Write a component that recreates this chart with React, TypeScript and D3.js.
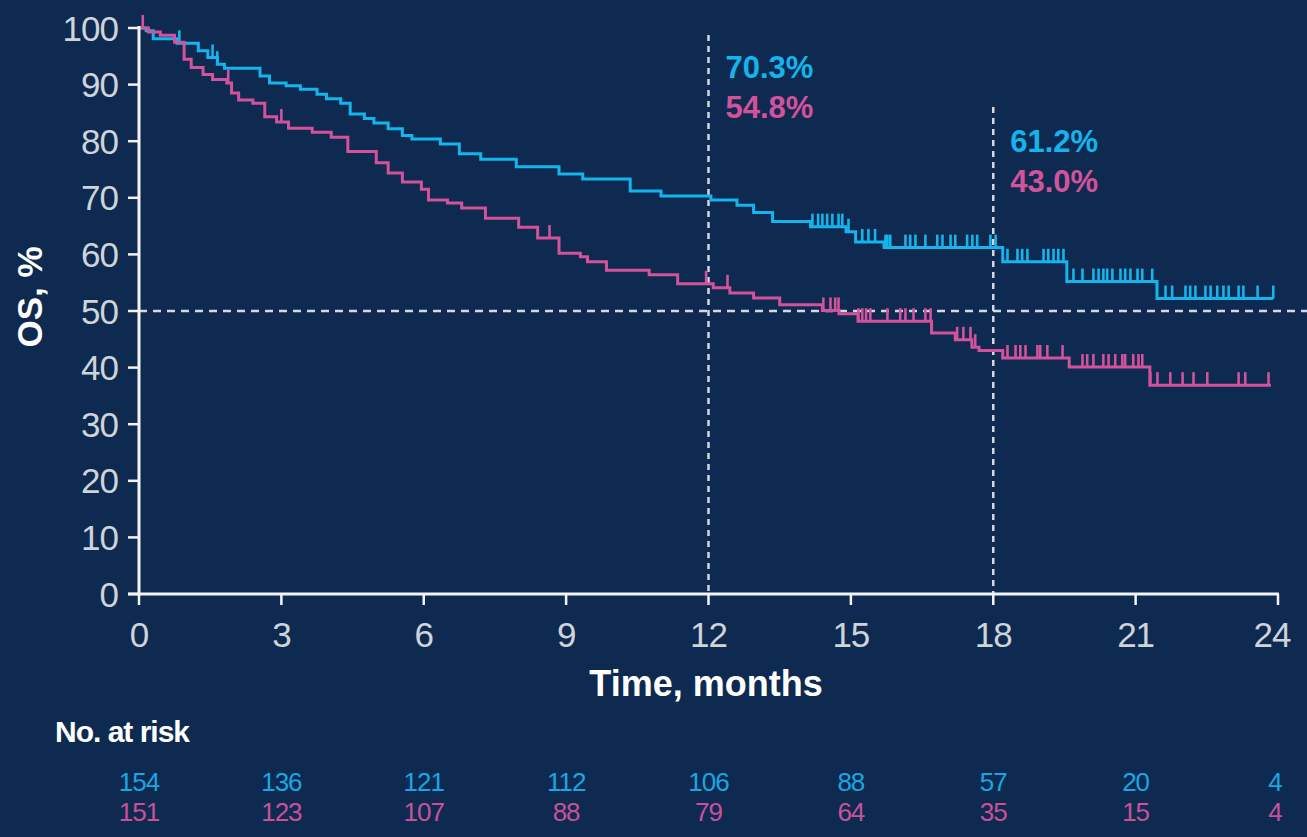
import React from "react";
import * as d3 from "d3";

// ---- data ----
const xTicks = [0, 3, 6, 9, 12, 15, 18, 21, 24];
const yTicks = [0, 10, 20, 30, 40, 50, 60, 70, 80, 90, 100];

const blueTimes = [0, 0.15, 0.3, 0.8, 1.25, 1.45, 1.65, 1.8, 2.55, 2.75, 3.1, 3.4, 3.75, 3.95, 4.25, 4.45, 4.75, 4.95, 5.25, 5.55, 5.75, 6.35, 6.75, 7.2, 7.95, 8.85, 9.35, 10.35, 11.0, 12.05, 12.6, 12.95, 13.35, 14.15, 14.9, 15.1, 15.7, 18.2, 19.55, 21.45, 23.9];
const blueSurv = [100, 99.5, 98.1, 97.3, 96.0, 94.8, 93.6, 92.9, 91.5, 90.3, 89.8, 89.2, 88.3, 87.5, 86.7, 84.8, 84.0, 83.2, 82.2, 81.0, 80.4, 79.5, 77.8, 76.8, 75.5, 74.2, 73.3, 71.2, 70.3, 69.6, 68.7, 67.4, 65.8, 64.9, 64.0, 62.2, 61.2, 58.7, 55.2, 52.2, 52.2];
const blueCensor = [0.85, 1.55, 1.65, 14.19, 14.31, 14.4, 14.5, 14.61, 14.74, 14.82, 14.95, 15.24, 15.37, 15.51, 15.73, 15.77, 15.83, 16.15, 16.25, 16.36, 16.57, 16.82, 16.93, 17.1, 17.2, 17.45, 17.56, 17.66, 17.94, 18.05, 18.3, 18.51, 18.61, 18.72, 19.06, 19.16, 19.27, 19.37, 19.48, 19.69, 19.88, 20.11, 20.22, 20.32, 20.4, 20.51, 20.68, 20.78, 20.89, 21.04, 21.14, 21.35, 21.63, 21.77, 22.05, 22.15, 22.26, 22.47, 22.58, 22.72, 22.85, 22.96, 23.17, 23.27, 23.57, 23.9];

const pinkTimes = [0, 0.2, 0.45, 0.75, 0.95, 1.1, 1.35, 1.55, 1.85, 1.95, 2.1, 2.4, 2.65, 2.9, 3.15, 3.65, 4.05, 4.4, 5.0, 5.25, 5.55, 5.95, 6.1, 6.5, 6.8, 7.3, 8.0, 8.4, 8.85, 9.3, 9.45, 9.85, 10.75, 11.35, 12.1, 12.45, 12.95, 13.5, 14.4, 14.75, 15.15, 16.7, 17.2, 17.55, 17.7, 18.2, 19.6, 21.3, 23.85];
const pinkSurv = [100, 99.3, 98.7, 97.5, 94.5, 93.0, 91.8, 90.9, 90.3, 88.5, 87.3, 86.7, 84.3, 83.4, 82.3, 81.6, 80.7, 78.2, 76.2, 74.4, 72.8, 71.5, 69.6, 69.1, 68.2, 66.4, 64.8, 62.9, 60.2, 59.6, 58.7, 57.2, 56.4, 54.8, 54.1, 53.2, 52.3, 51.1, 50.1, 49.5, 48.2, 46.1, 44.9, 43.6, 43.0, 41.7, 40.1, 36.9, 36.9];
const pinkCensor = [0.08, 1.88, 3.0, 8.65, 11.95, 12.4, 14.42, 14.57, 14.67, 14.74, 15.16, 15.24, 15.32, 15.41, 15.77, 16.04, 16.15, 16.32, 16.57, 16.68, 17.24, 17.37, 17.52, 17.62, 18.3, 18.47, 18.57, 18.68, 18.93, 18.99, 19.14, 19.46, 19.88, 19.98, 20.11, 20.32, 20.43, 20.57, 20.72, 20.78, 20.95, 21.06, 21.14, 21.31, 21.46, 21.73, 21.99, 22.22, 22.51, 23.17, 23.31, 23.8];

const riskBlue = [154, 136, 121, 112, 106, 88, 57, 20, 4];
const riskPink = [151, 123, 107, 88, 79, 64, 35, 15, 4];

const landmarkTimes = [12, 18];
const landmarkBlue = ["70.3%", "61.2%"];
const landmarkPink = ["54.8%", "43.0%"];

// ---- style ----
const BG = "#0e2a50";
const BLUE = "#14b4ec";
const PINK = "#d2529c";
const BLUE_TXT = "#1aa6e2";
const PINK_TXT = "#c9519a";
const TICK_TXT = "#cfd3da";
const FONT = "'Liberation Sans', Arial, sans-serif";

const W = 1307;
const H = 837;

export default function App() {
  const x = d3.scaleLinear().domain([0, 24]).range([139, 1278]);
  const y = d3.scaleLinear().domain([0, 100]).range([594, 28]);

  const line = d3
    .line<[number, number]>()
    .x((d) => x(d[0]))
    .y((d) => y(d[1]))
    .curve(d3.curveStepAfter);

  const series = [
    { times: blueTimes, surv: blueSurv, censor: blueCensor, color: BLUE },
    { times: pinkTimes, surv: pinkSurv, censor: pinkCensor, color: PINK },
  ];

  const survAt = (times: number[], surv: number[], t: number) => {
    let v = surv[0];
    for (let i = 0; i < times.length; i++) {
      if (times[i] <= t) v = surv[i];
    }
    return v;
  };

  return (
    <svg
      width={W}
      height={H}
      style={{ position: "absolute", left: 0, top: 0, display: "block" }}
    >
      <rect x={0} y={0} width={W} height={H} fill={BG} />

      {/* reference lines */}
      <line
        x1={x(0)}
        x2={W}
        y1={y(50)}
        y2={y(50)}
        stroke="#d4d8de"
        strokeWidth={2.5}
        strokeDasharray="8 6"
      />
      <line
        x1={x(12)}
        x2={x(12)}
        y1={35}
        y2={y(0)}
        stroke="#d4d8de"
        strokeWidth={2.5}
        strokeDasharray="6 5"
      />
      <line
        x1={x(18)}
        x2={x(18)}
        y1={107}
        y2={y(0)}
        stroke="#d4d8de"
        strokeWidth={2.5}
        strokeDasharray="6 5"
      />

      {/* curves */}
      {series.map((s, i) => (
        <g key={i}>
          <path
            d={line(s.times.map((t, j) => [t, s.surv[j]] as [number, number])) || ""}
            fill="none"
            stroke={s.color}
            strokeWidth={3}
          />
          {s.censor.map((t, j) => {
            const v = survAt(s.times, s.surv, t);
            return (
              <line
                key={j}
                x1={x(t)}
                x2={x(t)}
                y1={y(v)}
                y2={y(v) - 13}
                stroke={s.color}
                strokeWidth={2.6}
              />
            );
          })}
        </g>
      ))}

      {/* axes */}
      <line x1={x(0)} x2={x(0)} y1={y(100) - 2} y2={y(0) + 1.5} stroke="#f2f3f5" strokeWidth={3} />
      <line x1={x(0) - 11} x2={x(24) + 1} y1={y(0)} y2={y(0)} stroke="#f2f3f5" strokeWidth={3} />
      {yTicks.map((t) => (
        <g key={"y" + t}>
          <line x1={x(0) - 11} x2={x(0)} y1={y(t)} y2={y(t)} stroke="#f2f3f5" strokeWidth={2.5} />
          <text
            x={118}
            y={y(t)}
            dy="0.36em"
            textAnchor="end"
            fill={TICK_TXT}
            fontFamily={FONT}
            fontSize={35}
            letterSpacing={-1}
          >
            {t}
          </text>
        </g>
      ))}
      {xTicks.map((t) => (
        <g key={"x" + t}>
          <line x1={x(t)} x2={x(t)} y1={y(0)} y2={y(0) + 11} stroke="#f2f3f5" strokeWidth={2.5} />
          <text
            x={x(t) - (t === 24 ? 6 : 0)}
            y={647}
            textAnchor="middle"
            fill={TICK_TXT}
            fontFamily={FONT}
            fontSize={35}
            letterSpacing={-1}
          >
            {t}
          </text>
        </g>
      ))}

      {/* axis titles */}
      <text
        x={706}
        y={696}
        textAnchor="middle"
        fill="#ffffff"
        fontFamily={FONT}
        fontWeight="bold"
        fontSize={36}
      >
        Time, months
      </text>
      <text
        transform={`translate(42, ${y(50) - 14}) rotate(-90)`}
        textAnchor="middle"
        fill="#ffffff"
        fontFamily={FONT}
        fontWeight="bold"
        fontSize={35}
      >
        OS, %
      </text>

      {/* landmark labels */}
      {landmarkTimes.map((t, i) => (
        <g key={"lm" + t}>
          <text
            x={x(t) + 17}
            y={i === 0 ? 78 : 152}
            fill={BLUE}
            fontFamily={FONT}
            fontWeight="bold"
            fontSize={31}
          >
            {landmarkBlue[i]}
          </text>
          <text
            x={x(t) + 17}
            y={i === 0 ? 118 : 192}
            fill={PINK}
            fontFamily={FONT}
            fontWeight="bold"
            fontSize={31}
          >
            {landmarkPink[i]}
          </text>
        </g>
      ))}

      {/* risk table */}
      <text x={55} y={742} fill="#ffffff" fontFamily={FONT} fontWeight="bold" fontSize={30} letterSpacing={-1}>
        No. at risk
      </text>
      {xTicks.map((t, i) => (
        <g key={"r" + t}>
          <text
            x={x(t) - (t === 24 ? 3 : 0)}
            y={791}
            textAnchor="middle"
            fill={BLUE_TXT}
            fontFamily={FONT}
            fontSize={26}
            letterSpacing={-1}
          >
            {riskBlue[i]}
          </text>
          <text
            x={x(t) - (t === 24 ? 3 : 0)}
            y={821}
            textAnchor="middle"
            fill={PINK_TXT}
            fontFamily={FONT}
            fontSize={26}
            letterSpacing={-1}
          >
            {riskPink[i]}
          </text>
        </g>
      ))}
    </svg>
  );
}
